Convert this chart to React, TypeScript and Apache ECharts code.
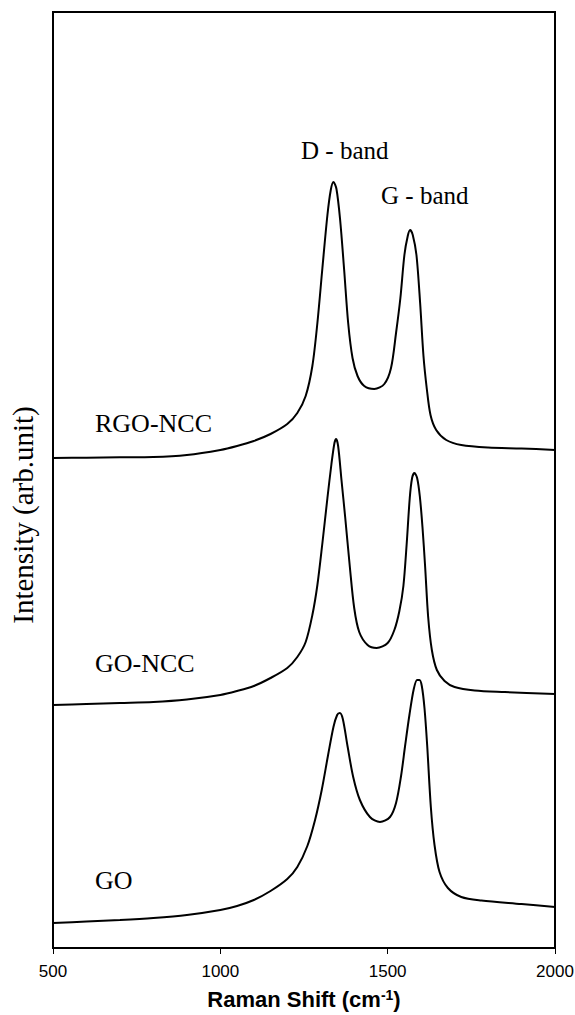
import React, { useEffect, useRef } from "react";
import * as echarts from "echarts";

// Raman shift (cm-1) ticks
const xTicks = [500, 1000, 1500, 2000];

// [Raman shift, intensity (arb. unit, stacked offset)]
const rgoNcc: [number, number][] = [
  [500, 490], [600, 490.3], [700, 490.7], [800, 491], [900, 493], [1000, 498], [1050, 502],
  [1100, 507], [1150, 514], [1200, 524], [1230, 535], [1255, 552], [1275, 582], [1290, 625],
  [1305, 680], [1320, 733], [1330, 758], [1338, 766], [1347, 759], [1358, 728], [1370, 678],
  [1382, 625], [1395, 590], [1410, 572], [1430, 562], [1460, 559], [1490, 564], [1510, 580],
  [1525, 615], [1538, 650], [1550, 693], [1560, 712], [1567, 718], [1575, 713], [1586, 693],
  [1597, 645], [1607, 592], [1617, 559], [1628, 533], [1645, 518], [1675, 508], [1720, 503],
  [1800, 500.5], [1900, 499.5], [2000, 498],
];

const goNcc: [number, number][] = [
  [500, 243], [600, 244], [700, 245], [800, 246], [900, 248.5], [1000, 253], [1050, 257],
  [1100, 262], [1150, 270], [1200, 280], [1230, 291], [1255, 306], [1275, 333], [1290, 363],
  [1305, 405], [1320, 450], [1332, 484], [1341, 505], [1346, 509], [1352, 502], [1362, 468],
  [1373, 431], [1387, 381], [1400, 340], [1415, 316], [1440, 303], [1467, 300], [1500, 305],
  [1520, 318], [1535, 337], [1547, 362], [1557, 405], [1566, 450], [1573, 470], [1580, 475],
  [1588, 470], [1596, 452], [1604, 421], [1612, 381], [1621, 331], [1632, 298], [1647, 278],
  [1670, 267], [1700, 261], [1760, 257.5], [1850, 256], [2000, 254],
];

const go: [number, number][] = [
  [500, 25], [600, 26.5], [700, 28], [800, 30], [900, 33], [1000, 38], [1050, 42], [1100, 48],
  [1150, 57], [1200, 69], [1230, 81], [1260, 102], [1283, 128], [1303, 158], [1322, 193],
  [1338, 221], [1349, 233], [1357, 235], [1366, 229], [1380, 202], [1397, 171], [1417, 148],
  [1447, 131], [1477, 126], [1507, 131], [1525, 145], [1540, 172], [1552, 202], [1565, 233],
  [1578, 259], [1588, 268], [1595, 268], [1602, 262], [1610, 240], [1618, 203], [1629, 141],
  [1640, 103], [1655, 76], [1680, 60], [1720, 51], [1780, 47.5], [1900, 44], [2000, 41],
];

const seriesNames = ["RGO-NCC", "GO-NCC", "GO"];
const bandLabels = ["D - band", "G - band"];

const SERIF = "'Liberation Serif', 'Times New Roman', serif";
const SANS = "'Liberation Sans', Arial, sans-serif";

export default function App() {
  const ref = useRef<HTMLDivElement>(null);

  useEffect(() => {
    const chart = echarts.init(ref.current!, null, { renderer: "svg" });
    const lineSeries = (name: string, data: [number, number][]) => ({
      name,
      type: "line",
      data,
      showSymbol: false,
      smooth: 0.3,
      lineStyle: { color: "#000", width: 2 },
    });
    const label = (text: string, x: number, y: number, size: number) => ({
      type: "text",
      left: x,
      top: y - size / 2,
      style: { text, font: `${size}px ${SERIF}`, fill: "#000" },
    });
    chart.setOption({
      animation: false,
      backgroundColor: "#fff",
      grid: {
        left: 53,
        right: 20,
        top: 12,
        bottom: 67,
        show: true,
        borderColor: "#000",
        borderWidth: 2,
        outerBoundsMode: "none",
        containLabel: false,
      },
      xAxis: {
        type: "value",
        min: xTicks[0],
        max: xTicks[xTicks.length - 1],
        interval: 500,
        name: "Raman Shift (cm{sup|-1})",
        nameLocation: "middle",
        nameGap: 40,
        nameTextStyle: {
          fontFamily: SANS,
          fontSize: 22,
          fontWeight: "bold",
          color: "#000",
          rich: {
            sup: {
              fontFamily: SANS,
              fontSize: 14,
              fontWeight: "bold",
              color: "#000",
              verticalAlign: "top",
              padding: [0, 0, 9, 0],
            },
          },
        },
        axisLine: { show: true, lineStyle: { color: "#000", width: 2 } },
        axisTick: { show: true, inside: false, length: 6, lineStyle: { color: "#000", width: 1 } },
        axisLabel: {
          fontFamily: SANS,
          fontSize: 17,
          color: "#000",
          margin: 15,
          formatter: (v: number) => String(v),
        },
        splitLine: { show: false },
      },
      yAxis: {
        type: "value",
        min: 0,
        max: 936,
        name: "Intensity (arb.unit)",
        nameLocation: "middle",
        nameGap: 16,
        nameTextStyle: {
          fontFamily: SERIF,
          fontSize: 29,
          color: "#000",
          padding: [0, 70, 0, 0],
        },
        axisLine: { show: true, lineStyle: { color: "#000", width: 2 } },
        axisTick: { show: false },
        axisLabel: { show: false },
        splitLine: { show: false },
      },
      series: [
        lineSeries(seriesNames[0], rgoNcc),
        lineSeries(seriesNames[1], goNcc),
        lineSeries(seriesNames[2], go),
      ],
      graphic: [
        label(seriesNames[0], 95, 423, 26),
        label(seriesNames[1], 95, 663, 26),
        label(seriesNames[2], 95, 880, 26),
        label(bandLabels[0], 301, 150, 25),
        label(bandLabels[1], 381, 195, 25),
      ],
    });
    return () => chart.dispose();
  }, []);

  return (
    <div
      ref={ref}
      style={{ position: "absolute", left: 0, top: 0, width: 575, height: 1015 }}
    />
  );
}
